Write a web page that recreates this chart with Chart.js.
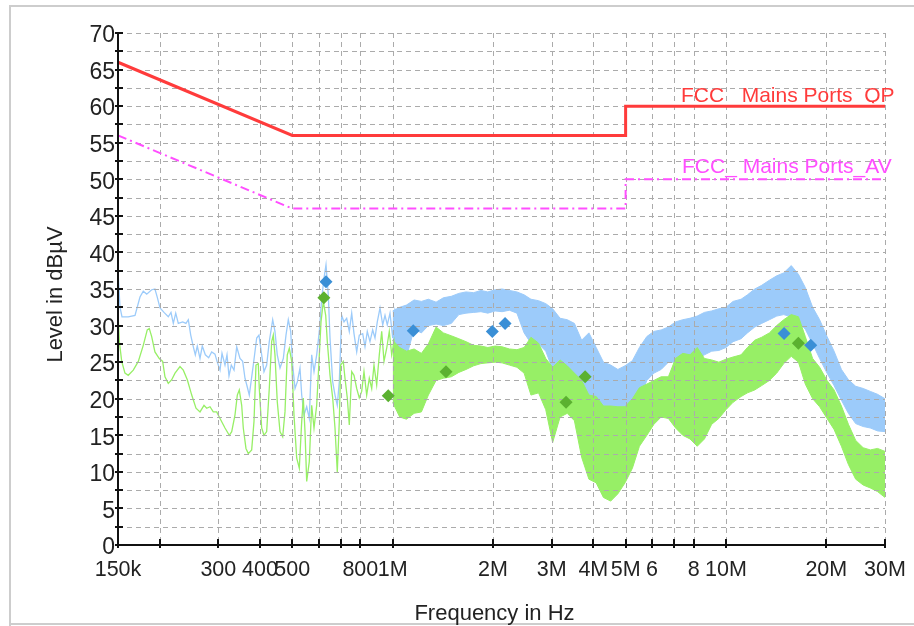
<!DOCTYPE html>
<html><head><meta charset="utf-8">
<script src="https://cdn.jsdelivr.net/npm/chart.js@4.4.1/dist/chart.umd.min.js"></script>
<style>html,body{margin:0;padding:0;background:#fff;overflow:hidden}canvas{display:block}</style>
</head><body>
<canvas id="c" width="914" height="626"></canvas>
<script>
// ---- data (frequency in MHz, level in dBµV) ----
const blueLineFreq = [0.15,0.1521,0.1542,0.1610,0.1687,0.1746,0.1786,0.1829,0.1893,0.1936,0.1967,0.2005,0.2061,0.2123,0.2163,0.2198,0.2235,0.2275,0.2345,0.2399,0.2438,0.2479,0.2524,0.2559,0.2594,0.2643,0.2685,0.2742,0.2806,0.2865,0.2931,0.2978,0.3035,0.3077,0.3141,0.3185,0.3229,0.3281,0.3343,0.3406,0.3484,0.3549,0.3606,0.3664,0.3715,0.3819,0.3910,0.3972,0.4047,0.4112,0.4189,0.4265,0.4367,0.4436,0.4507,0.4593,0.4699,0.4787,0.4864,0.4945,0.5014,0.5095,0.5176,0.5273,0.5336,0.5421,0.5523,0.5623,0.5717,0.5809,0.5918,0.6026,0.6127,0.6225,0.6311,0.6412,0.6488,0.6610,0.6716,0.6823,0.6918,0.7034,0.7146,0.7280,0.7413,0.7537,0.7658,0.7802,0.7943,0.8132,0.8262,0.8394,0.8552,0.8713,0.8853,0.8994,0.9165,0.9337,0.9487,0.9638,0.9820,1.0005,1.0165,1.0400];
const blueLineLevel = [37.5,32.5,31.2,31.2,31.4,33.9,34.7,34.3,34.9,35.0,33.9,32.4,31.8,31.2,31.8,30.3,31.7,30.3,30.5,30.3,30.8,28.7,27.1,26.0,27.2,25.5,27.2,26.0,25.6,26.4,26.1,25.0,23.9,26.2,24.6,26.0,23.1,24.6,23.9,27.1,25.5,25.1,22.8,21.6,20.5,24.6,28.3,28.7,26.0,23.7,24.6,27.8,30.8,29.2,26.0,24.2,25.5,28.7,30.8,29.2,24.6,21.4,22.3,24.2,20.5,17.8,18.9,17.3,26.0,23.7,26.0,29.2,33.7,36.5,38.3,34.2,28.3,22.3,20.5,19.1,22.3,31.4,30.5,31.0,29.2,31.7,28.9,26.4,28.7,28.9,27.1,29.2,27.8,29.4,28.3,30.5,32.4,30.1,31.4,30.1,31.7,28.3,32.1,30.5];

const greenLineFreq = [0.15,0.1514,0.1539,0.1574,0.1610,0.1667,0.1726,0.1786,0.1836,0.1862,0.1893,0.1936,0.1995,0.2042,0.2075,0.2123,0.2174,0.2224,0.2302,0.2355,0.2421,0.2496,0.2571,0.2643,0.2717,0.2768,0.2832,0.2897,0.2966,0.3035,0.3141,0.3236,0.3290,0.3366,0.3420,0.3467,0.3525,0.3564,0.3631,0.3690,0.3777,0.3838,0.3891,0.3953,0.3981,0.4047,0.4112,0.4189,0.4265,0.4336,0.4385,0.4436,0.4507,0.4593,0.4679,0.4754,0.4830,0.4898,0.4980,0.5059,0.5154,0.5248,0.5336,0.5395,0.5459,0.5523,0.5623,0.5717,0.5809,0.5918,0.6013,0.6097,0.6195,0.6298,0.6368,0.6488,0.6610,0.6716,0.6823,0.6918,0.6985,0.7112,0.7196,0.7311,0.7413,0.7537,0.7658,0.7802,0.7943,0.8076,0.8205,0.8359,0.8511,0.8654,0.8792,0.8957,0.9120,0.9273,0.9422,0.9599,0.9772,0.9936,1.0095,1.0285,1.0471];
const greenLineLevel = [31.7,27.8,25.1,23.5,23.2,23.9,25.1,27.3,29.4,29.6,28.5,26.4,25.5,25.1,23.0,22.1,22.6,23.5,24.4,23.9,22.6,20.5,18.7,18.2,19.1,18.7,18.9,18.2,18.2,17.3,16.0,15.0,15.5,17.8,20.5,21.2,19.1,16.0,13.2,12.5,13.0,16.9,24.6,24.8,21.4,16.0,15.0,15.5,21.4,27.8,28.7,26.0,19.6,15.5,14.8,18.2,26.0,26.9,25.1,17.8,11.9,10.5,16.9,20.1,15.5,8.7,11.4,19.1,16.0,19.1,25.1,30.5,33.3,31.4,27.8,23.2,20.1,16.0,10.0,16.9,24.6,25.1,22.8,20.1,16.4,23.7,23.2,21.4,20.1,21.0,23.7,20.5,22.8,21.4,24.6,21.9,26.0,29.2,25.1,26.9,29.2,26.0,27.8,22.3,19.6];

const bandFreq = [1.0,1.05,1.1,1.16,1.22,1.28,1.35,1.42,1.5,1.58,1.66,1.75,1.84,1.93,2.03,2.13,2.24,2.36,2.48,2.6,2.74,2.88,3.02,3.18,3.34,3.51,3.69,3.88,4.08,4.29,4.51,4.74,4.98,5.24,5.5,5.79,6.08,6.39,6.72,7.06,7.42,7.8,8.2,8.62,9.06,9.52,10,10.5,11.1,11.6,12.2,12.8,13.5,14.2,14.9,15.7,16.5,17.3,18.2,19.1,20.1,21.1,22.2,23.3,24.5,25.8,27.1,28.5,30];
const blueUpper = [32.0,32.5,32.8,33.5,33.3,33.6,33.2,33.8,34.0,34.4,34.6,34.5,34.8,34.6,34.9,35.0,34.8,34.6,34.2,33.6,33.4,33.0,32.3,31.0,30.8,30.3,28.0,29.0,27.0,25.0,24.6,24.0,24.5,25.2,27.0,28.5,29.2,29.4,29.8,30.5,30.8,31.0,31.3,31.8,32.0,32.3,32.5,33.3,33.6,34.2,35.0,35.5,36.2,36.8,37.2,38.2,37.0,35.2,32.5,30.8,28.5,26.5,24.0,22.6,21.7,21.4,21.0,20.6,20.0];
const blueLower = [28.0,26.5,25.7,29.5,29.0,30.0,30.2,30.0,30.3,31.5,31.7,31.8,31.9,31.7,32.0,31.9,32.1,31.7,29.0,27.6,27.5,26.5,24.0,23.0,21.2,20.5,18.0,17.3,17.0,16.8,16.5,17.0,17.3,18.0,20.0,22.5,23.5,24.0,25.0,25.0,24.8,25.2,25.5,26.0,26.5,26.6,27.0,27.8,28.2,29.0,29.8,30.3,30.8,31.3,31.5,31.2,30.5,29.5,27.5,25.5,23.5,21.8,19.8,18.0,16.6,16.2,16.0,15.6,15.5];
const greenUpper = [28.0,27.0,26.5,26.8,26.2,27.5,29.8,29.0,28.6,28.2,27.8,27.3,27.2,27.0,27.2,27.1,26.8,26.7,27.0,28.4,27.6,25.5,24.3,25.3,24.5,23.5,22.5,20.5,20.3,19.0,19.0,18.9,18.9,20.0,21.5,22.0,22.5,23.0,23.0,25.5,26.2,26.0,27.0,25.5,25.3,25.0,25.4,25.7,26.0,27.0,28.0,28.4,29.0,30.0,30.8,31.5,31.2,28.5,25.5,24.3,22.5,21.2,19.0,16.5,14.3,13.3,13.0,13.2,12.8];
const greenLower = [19.5,17.5,17.2,18.0,18.2,20.5,22.5,22.8,23.0,23.6,24.0,24.5,24.8,24.9,25.0,24.9,24.6,24.3,23.5,20.5,20.8,18.5,14.0,17.5,18.0,17.0,12.0,9.0,8.5,6.5,6.0,7.0,8.5,10.5,13.5,15.0,16.5,17.5,17.3,16.0,15.0,14.5,13.5,14.5,16.5,17.3,18.5,19.5,20.3,20.8,21.2,21.8,22.5,23.5,24.8,25.8,25.0,22.0,20.0,18.9,17.3,15.8,13.5,11.0,9.0,8.2,7.8,7.3,6.5];

const qpLimitFreq = [0.15,0.5,5,5,30];
const qpLimitLevel = [66,56,56,60,60];
const avLimitFreq = [0.15,0.5,5,5,30];
const avLimitLevel = [56,46,46,50,50];

const qpMarkFreq = [0.631,1.153,1.991,2.174,14.94,17.96];
const qpMarkLevel = [36.0,29.3,29.2,30.3,28.9,27.3];
const avMarkFreq = [0.622,0.970,1.446,3.314,3.78,16.49];
const avMarkLevel = [33.8,20.4,23.7,19.5,23.0,27.6];

const xTickFreq = [0.15,0.2,0.3,0.4,0.5,0.6,0.7,0.8,1,2,3,4,5,6,7,8,10,20,30];
const xTickText = ['150k','','300','400','500','','','800','1M','2M','3M','4M','5M','6','','8','10M','20M','30M'];
const yTickLevels = [0,5,10,15,20,25,30,35,40,45,50,55,60,65,70];
const yTickText = ['0','5','10','15','20','25','30','35','40','45','50','55','60','65','70'];
const yGridLevels = [2.5,5,7.5,10,12.5,15,17.5,20,22.5,25,27.5,30,32.5,35,37.5,40,42.5,45,47.5,50,52.5,55,57.5,60,62.5,65,67.5,70];
const xGridFreq = [0.2,0.3,0.4,0.5,0.6,0.7,0.8,1,2,3,4,5,6,7,8,10,20,30];

const qpLabel = 'FCC_ Mains Ports_QP';
const avLabel = 'FCC_ Mains Ports_AV';
const xTitle = 'Frequency in Hz';
const yTitle = 'Level in dBµV';

// ---- styles ----
const BLUE = '#9ccbfa', GREEN = '#97ef66', BLUE_M = '#3a8fd6', GREEN_M = '#5bb130';
const RED = '#ff3b3b', MAG = '#ff4eff';
const FONT = "'Liberation Sans', Arial, sans-serif";
const pts = (f, l) => f.map((v, i) => ({x: v, y: l[i]}));

function drawGrid(c) {
  const g = c.ctx, xs = c.scales.x, ys = c.scales.y, a = c.chartArea;
  g.save();
  g.strokeStyle = '#ababab'; g.lineWidth = 1; g.setLineDash([5, 4]);
  g.beginPath();
  for (const v of yGridLevels) { const p = Math.round(ys.getPixelForValue(v)) + 0.5; g.moveTo(a.left, p); g.lineTo(a.right, p); }
  for (const f of xGridFreq) { const p = Math.round(xs.getPixelForValue(f)) + 0.5; g.moveTo(p, a.top); g.lineTo(p, a.bottom); }
  g.stroke();
  g.restore();
}

const deco = {
  id: 'deco',
  beforeDraw(c) {
    const g = c.ctx;
    g.save();
    g.fillStyle = '#fff'; g.fillRect(0, 0, c.width, c.height);
    g.strokeStyle = '#cdcdcd'; g.lineWidth = 2;
    g.beginPath();
    g.moveTo(10, 626); g.lineTo(10, 6); g.lineTo(914, 6);
    g.moveTo(10, 624); g.lineTo(914, 624);
    g.stroke();
    g.restore();
  },
  afterDatasetDraw(c, args) {
    if (c.data.datasets[args.index].gridAfter) drawGrid(c);
  },
  afterDraw(c) {
    const g = c.ctx, xs = c.scales.x, ys = c.scales.y, a = c.chartArea;
    g.save();
    // axes
    g.strokeStyle = '#111'; g.lineWidth = 2; g.setLineDash([]);
    g.beginPath();
    g.moveTo(a.left, a.top); g.lineTo(a.left, a.bottom + 1);
    g.moveTo(a.left - 1, a.bottom); g.lineTo(a.right, a.bottom);
    for (const v of [0].concat(yGridLevels)) { const p = Math.round(ys.getPixelForValue(v)); g.moveTo(a.left - 3, p); g.lineTo(a.left + 5, p); }
    for (const f of xTickFreq) { const p = Math.round(xs.getPixelForValue(f)); g.moveTo(p, a.bottom - 6); g.lineTo(p, a.bottom + 3); }
    g.stroke();
    // titles
    g.fillStyle = '#222'; g.font = '22px ' + FONT;
    g.textAlign = 'center'; g.textBaseline = 'alphabetic';
    g.fillText(xTitle, 494.5, 620);
    g.save(); g.translate(62, 294.5); g.rotate(-Math.PI / 2); g.fillText(yTitle, 0, 0); g.restore();
    // limit labels
    g.textAlign = 'left'; g.font = '21px ' + FONT;
    const lx = xs.getPixelForValue(7.33);
    const qy = ys.getPixelForValue(60) - 4;
    g.save(); g.beginPath(); g.rect(lx - 2, qy - 30, 260, 31); g.clip();
    g.fillStyle = RED; g.fillText(qpLabel, lx, qy);
    g.restore();
    const ay = ys.getPixelForValue(50) - 6;
    g.fillStyle = MAG; g.fillText(avLabel, lx + 1, ay);
    g.restore();
  }
};

new Chart(document.getElementById('c'), {
  type: 'line',
  data: {datasets: [
    {label: 'blueUpper', data: pts(bandFreq, blueUpper), borderColor: BLUE, backgroundColor: BLUE, borderWidth: 1, pointRadius: 0, fill: '+1', order: 10},
    {label: 'blueLower', data: pts(bandFreq, blueLower), borderColor: BLUE, borderWidth: 1, pointRadius: 0, fill: false, order: 10},
    {label: 'blueLine', data: pts(blueLineFreq, blueLineLevel), borderColor: BLUE, borderWidth: 1.3, pointRadius: 0, fill: false, order: 9},
    {label: 'greenUpper', data: pts(bandFreq, greenUpper), borderColor: GREEN, backgroundColor: GREEN, borderWidth: 1, pointRadius: 0, fill: '+1', order: 8},
    {label: 'greenLower', data: pts(bandFreq, greenLower), borderColor: GREEN, borderWidth: 1, pointRadius: 0, fill: false, order: 8},
    {label: 'greenLine', data: pts(greenLineFreq, greenLineLevel), borderColor: GREEN, borderWidth: 1.3, pointRadius: 0, fill: false, order: 7, gridAfter: true},
    {label: 'QP', data: pts(qpLimitFreq, qpLimitLevel), borderColor: RED, borderWidth: 3, pointRadius: 0, fill: false, order: 3},
    {label: 'AV', data: pts(avLimitFreq, avLimitLevel), borderColor: MAG, borderWidth: 2, borderDash: [9, 4, 2, 4], pointRadius: 0, fill: false, order: 3},
    {label: 'QPm', data: pts(qpMarkFreq, qpMarkLevel), showLine: false, pointStyle: 'rectRot', pointRadius: 6.5, pointBackgroundColor: BLUE_M, pointBorderColor: BLUE_M, pointBorderWidth: 0, order: 1},
    {label: 'AVm', data: pts(avMarkFreq, avMarkLevel), showLine: false, pointStyle: 'rectRot', pointRadius: 6.5, pointBackgroundColor: GREEN_M, pointBorderColor: GREEN_M, pointBorderWidth: 0, order: 1}
  ]},
  options: {
    responsive: false, animation: false, events: [],
    layout: {padding: {top: 33, right: 29, left: 0, bottom: 0}},
    plugins: {legend: {display: false}, tooltip: {enabled: false}},
    elements: {line: {tension: 0}},
    scales: {
      x: {type: 'logarithmic', min: 0.15, max: 30,
        grid: {display: false, drawTicks: false}, border: {display: false},
        afterBuildTicks: s => { s.ticks = xTickFreq.map(v => ({value: v})); },
        afterFit: s => { s.height = 81; s.paddingLeft = 0; s.paddingRight = 0; },
        ticks: {autoSkip: false, maxRotation: 0, minRotation: 0, padding: 12, color: '#222',
          font: {family: FONT, size: 21.5}, callback: (v, i) => xTickText[i]}},
      y: {type: 'linear', min: 0, max: 70,
        grid: {display: false, drawTicks: false}, border: {display: false},
        afterBuildTicks: s => { s.ticks = yTickLevels.map(v => ({value: v})); },
        afterFit: s => { s.width = 118; },
        ticks: {padding: 3, labelOffset: 3, color: '#222',
          font: {family: FONT, size: 23}, callback: (v, i) => yTickText[i]}}
    }
  },
  plugins: [deco]
});
</script>
</body></html>
